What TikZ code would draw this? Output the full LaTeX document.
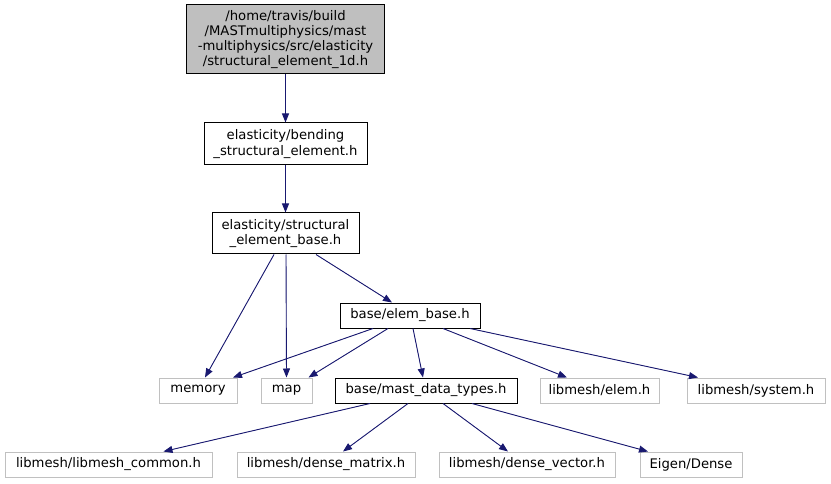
\documentclass[tikz,border=0pt]{standalone}
\usepackage{fontspec}
\setmainfont{DejaVu Sans}
\usetikzlibrary{arrows.meta}
\definecolor{edgec}{HTML}{191970}
\definecolor{grayb}{HTML}{C0C0C0}
\definecolor{topfill}{HTML}{BFBFBF}
\begin{document}
\begin{tikzpicture}[x=1pt,y=-1pt,
  box/.style={draw=black,line width=1pt,inner sep=0pt,align=center,
    font=\fontsize{13.2pt}{15.3pt}\selectfont},
  ext/.style={draw=grayb,line width=1pt,inner sep=0pt,align=center,
    font=\fontsize{13.2pt}{15.3pt}\selectfont},
  edge/.style={draw=edgec,line width=0.9pt,-{Triangle[length=9pt,width=7pt]},fill=edgec}]
\useasboundingbox (0,0) rectangle (831,484);
\node[box,fill=topfill,minimum width=198pt,minimum height=69pt] (top) at (285.5,39.5)
  {/home/travis/build\\/MASTmultiphysics/mast\\-multiphysics/src/elasticity\\/structural\_element\_1d.h};
\node[box,minimum width=163pt,minimum height=42pt] (bend) at (285.5,144)
  {elasticity/bending\\\_structural\_element.h};
\node[box,minimum width=147pt,minimum height=41pt] (base) at (285.5,233.5)
  {elasticity/structural\\\_element\_base.h};
\node[box,minimum width=140pt,minimum height=25pt] (eb) at (410,315.5) {base/elem\_base.h};
\node[ext,minimum width=78pt,minimum height=25pt] (mem) at (198,390.5) {memory};
\node[ext,minimum width=51pt,minimum height=25pt] (map) at (286.5,390.5) {map};
\node[box,minimum width=182pt,minimum height=25pt] (mdt) at (426,390.5) {base/mast\_data\_types.h};
\node[ext,minimum width=119pt,minimum height=25pt] (elem) at (599.5,390.5) {libmesh/elem.h};
\node[ext,minimum width=138pt,minimum height=25pt] (sys) at (756,390.5) {libmesh/system.h};
\node[ext,minimum width=207pt,minimum height=25pt] (lc) at (108.5,464.5) {libmesh/libmesh\_common.h};
\node[ext,minimum width=178pt,minimum height=25pt] (dm) at (326,464.5) {libmesh/dense\_matrix.h};
\node[ext,minimum width=176pt,minimum height=25pt] (dv) at (527,464.5) {libmesh/dense\_vector.h};
\node[ext,minimum width=102pt,minimum height=25pt] (eig) at (691,464.5) {Eigen/Dense};

\draw[edge] (top.south) -- (bend.north);
\draw[edge] (bend.south) -- (base.north);
\draw[edge] ([xshift=-11.5pt]base.south) -- ([xshift=7pt]mem.north);
\draw[edge] ([xshift=0.5pt]base.south) -- (map.north);
\draw[edge] ([xshift=30.5pt]base.south) -- ([xshift=-18pt]eb.north);
\draw[edge] ([xshift=-37pt]eb.south) -- ([xshift=35pt]mem.north);
\draw[edge] ([xshift=-22pt]eb.south) -- ([xshift=22pt]map.north);
\draw[edge] ([xshift=3pt]eb.south) -- ([xshift=-3pt]mdt.north);
\draw[edge] ([xshift=33pt]eb.south) -- ([xshift=-32.5pt]elem.north);
\draw[edge] ([xshift=60pt]eb.south) -- ([xshift=-58pt]sys.north);
\draw[edge] ([xshift=-56pt]mdt.south) -- ([xshift=55pt]lc.north);
\draw[edge] ([xshift=-18pt]mdt.south) -- ([xshift=17pt]dm.north);
\draw[edge] ([xshift=17pt]mdt.south) -- ([xshift=-19pt]dv.north);
\draw[edge] ([xshift=46pt]mdt.south) -- ([xshift=-43pt]eig.north);
\end{tikzpicture}
\end{document}
